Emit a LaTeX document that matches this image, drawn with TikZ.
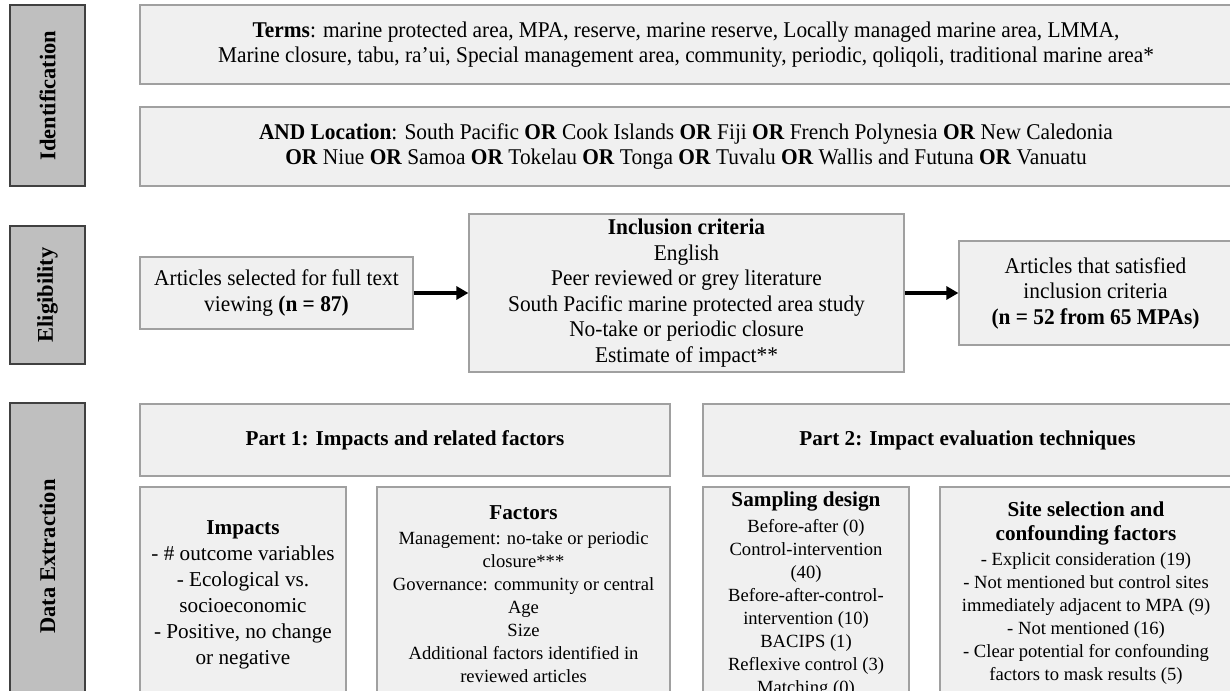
\documentclass[tikz,border=0pt]{standalone}
\usepackage{fontspec}
\setmainfont{Liberation Serif}
\newfontfamily\narrowserif[FakeStretch=0.95]{Liberation Serif}
\usetikzlibrary{arrows.meta}
\definecolor{boxfill}{HTML}{F0F0F0}
\definecolor{boxline}{HTML}{A0A0A0}
\definecolor{tabfill}{HTML}{BFBFBF}
\definecolor{tabline}{HTML}{404040}

\begin{document}
\begin{tikzpicture}[x=1pt,y=-1pt,
    box/.style={draw=boxline,fill=boxfill,line width=1.2pt,inner sep=0pt,align=center},
    tab/.style={draw=tabline,fill=tabfill,line width=1.2pt,inner sep=0pt,rotate=90,
        font=\fontsize{22.5}{24}\selectfont\bfseries},
    upper/.style={box,font=\narrowserif\fontsize{22.5}{25.5}\selectfont},
    lower/.style={box,font=\fontsize{18.6}{23}\selectfont},
    head/.style={font=\fontsize{21.2}{27}\selectfont\bfseries},
    link/.style={-{Triangle[length=12pt,width=13pt]},line width=4pt}]
    \useasboundingbox (0,0) rectangle (1230,690);
    \fill[white] (0,0) rectangle (1230,690);

    \node[tab,minimum width=181,minimum height=75] (idtab) at (47.5,95.5) {Identification};
    \node[tab,minimum width=138,minimum height=75] (eltab) at (47.5,295) {Eligibility};
    \node[tab,minimum width=307,minimum height=75] (detab) at (47.5,556.5) {Data Extraction};

    \node[upper,minimum width=1092,minimum height=79] (terms) at (686,44.5)
        {\textbf{Terms}: marine protected area, MPA, reserve, marine reserve, Locally managed marine area, LMMA,\\
        Marine closure, tabu, ra’ui, Special management area, community, periodic, qoliqoli, traditional marine area*};
    \node[upper,minimum width=1092,minimum height=79] (place) at (686,146.5)
        {\textbf{AND Location}: South Pacific \textbf{OR} Cook Islands \textbf{OR} Fiji \textbf{OR} French Polynesia \textbf{OR} New Caledonia\\
        \textbf{OR} Niue \textbf{OR} Samoa \textbf{OR} Tokelau \textbf{OR} Tonga \textbf{OR} Tuvalu \textbf{OR} Wallis and Futuna \textbf{OR} Vanuatu};

    \node[upper,minimum width=273,minimum height=72] (full) at (276.5,293)
        {Articles selected for full text\\viewing \textbf{(n = 87)}};
    \node[upper,minimum width=435,minimum height=158] (crit) at (686.5,293)
        {\textbf{Inclusion criteria}\\English\\Peer reviewed or grey literature\\South Pacific marine protected area study\\
        No-take or periodic closure\\Estimate of impact**};
    \node[upper,minimum width=273,minimum height=104] (kept) at (1095.5,293)
        {Articles that satisfied\\inclusion criteria\\\textbf{(n = 52 from 65 MPAs)}};
    \draw[link] (full) -- (crit);
    \draw[link] (crit) -- (kept);

    \node[box,head,minimum width=530,minimum height=72] (part1) at (405,440)
        {Part 1: Impacts and related factors};
    \node[box,head,minimum width=529,minimum height=72] (part2) at (967.5,440)
        {Part 2: Impact evaluation techniques};

    \node[box,font=\fontsize{21.2}{26}\selectfont,minimum width=206,minimum height=216] (impacts) at (243,595)
        {\textbf{Impacts}\\- \# outcome variables\\- Ecological vs.\\socioeconomic\\- Positive, no change\\or negative};
    \node[lower,minimum width=293,minimum height=215] (factors) at (523.5,594.5)
        {{\fontsize{21.2}{27}\selectfont\bfseries Factors}\\[2pt]Management: no-take or periodic\\closure***\\
        Governance: community or central\\Age\\Size\\Additional factors identified in\\reviewed articles};
    \node[lower,minimum width=206,minimum height=216] (sampling) at (806,595)
        {{\fontsize{21.2}{27}\selectfont\bfseries Sampling design}\\[3pt]Before-after (0)\\Control-intervention\\(40)\\
        Before-after-control-\\intervention (10)\\BACIPS (1)\\Reflexive control (3)\\Matching (0)};
    \node[lower,minimum width=292,minimum height=213] (sites) at (1086,593.5)
        {{\fontsize{21.2}{27}\selectfont\bfseries Site selection and}\\[1pt]{\fontsize{21.2}{27}\selectfont\bfseries confounding factors}\\[2pt]
        - Explicit consideration (19)\\- Not mentioned but control sites\\immediately adjacent to MPA (9)\\
        - Not mentioned (16)\\- Clear potential for confounding\\factors to mask results (5)};
\end{tikzpicture}
\end{document}
